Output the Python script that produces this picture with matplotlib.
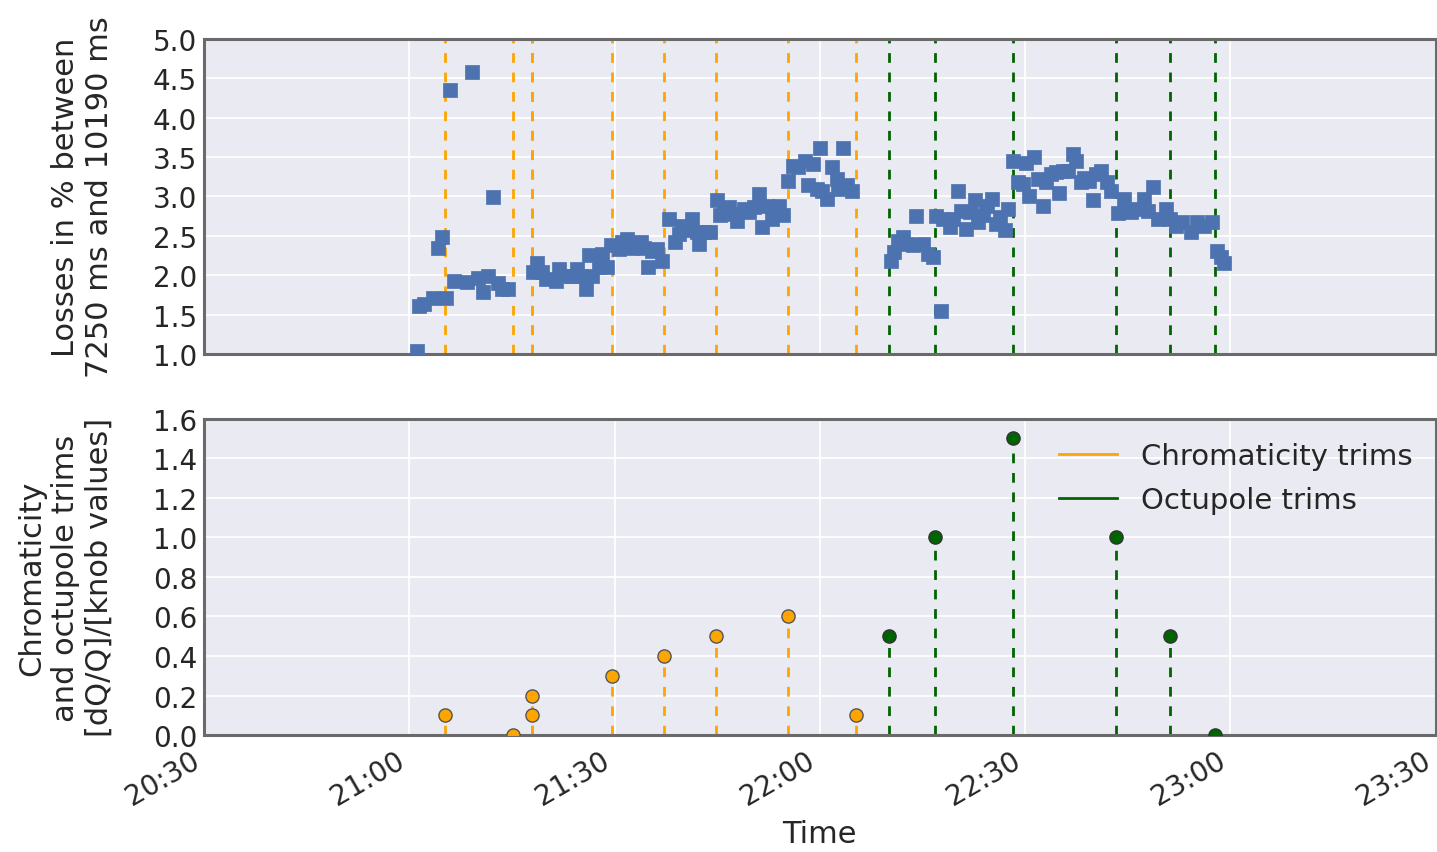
import numpy as np
import pandas as pd
import matplotlib
matplotlib.use("Agg")
import matplotlib.pyplot as plt
import matplotlib.dates as mdates
from matplotlib.lines import Line2D

# Время отсчитывается в минутах после 21:00
t_loss = [1.09, 1.49, 2.11, 3.48, 4.15, 4.80, 5.42, 5.96, 6.49, 8.44,
          9.11, 10.09, 10.82, 11.55, 12.17, 12.90, 13.48, 14.46, 18.10, 18.73,
          19.46, 20.04, 21.41, 21.90, 22.87, 23.83, 24.56, 25.06, 25.87, 26.27,
          26.75, 27.73, 28.21, 28.94, 29.43, 30.64, 31.12, 31.85, 32.58, 33.80,
          34.29, 34.91, 35.50, 36.22, 36.87, 37.93, 38.80, 39.39, 39.87, 40.12,
          40.85, 41.33, 42.06, 42.30, 43.03, 44.01, 44.97, 45.47, 45.95, 46.68,
          47.16, 47.89, 48.86, 49.59, 50.32, 51.05, 51.53, 52.26, 52.99, 53.97,
          54.69, 55.42, 56.15, 56.88, 57.86, 58.34, 59.07, 59.55, 60.04, 60.30,
          61.01, 61.74, 62.47, 62.71, 63.44, 63.92, 64.65, 70.39, 70.88, 71.46,
          72.19, 72.92, 73.65, 74.13, 75.10, 75.83, 76.56, 77.04, 77.77, 78.02,
          79.00, 79.48, 80.21, 80.69, 81.42, 81.92, 82.65, 83.12, 83.85, 84.48,
          85.16, 85.79, 86.29, 87.01, 87.49, 88.22, 88.95, 89.68, 90.16, 90.55,
          91.28, 91.87, 92.59, 93.08, 93.81, 94.54, 95.03, 95.51, 96.24, 96.97,
          97.46, 98.18, 98.68, 99.41, 99.89, 100.38, 101.11, 101.98, 102.57, 103.63,
          104.51, 105.47, 106.44, 107.32, 107.90, 108.63, 109.36, 110.57, 111.22, 112.03,
          113.01, 114.21, 115.19, 116.17, 117.38, 118.00, 118.69, 119.08]
losses = [1.04, 1.61, 1.63, 1.71, 2.35, 2.48, 1.71, 4.35, 1.93, 1.91,
          4.58, 1.97, 1.78, 1.99, 2.99, 1.90, 1.83, 1.83, 2.04, 2.16,
          2.04, 1.95, 1.93, 2.08, 1.99, 1.99, 2.08, 1.99, 1.83, 2.25,
          1.99, 2.10, 2.27, 2.10, 2.38, 2.33, 2.42, 2.46, 2.35, 2.42,
          2.35, 2.11, 2.31, 2.33, 2.18, 2.71, 2.42, 2.52, 2.63, 2.59,
          2.57, 2.71, 2.55, 2.40, 2.55, 2.55, 2.95, 2.76, 2.84, 2.86,
          2.78, 2.69, 2.84, 2.80, 2.86, 3.03, 2.61, 2.88, 2.71, 2.88,
          2.76, 3.20, 3.39, 3.37, 3.45, 3.14, 3.41, 3.10, 3.62, 3.07,
          2.97, 3.37, 3.22, 3.10, 3.61, 3.14, 3.07, 2.18, 2.29, 2.44,
          2.48, 2.40, 2.38, 2.75, 2.40, 2.27, 2.23, 2.75, 1.54, 2.71,
          2.61, 2.71, 3.07, 2.82, 2.59, 2.80, 2.95, 2.67, 2.76, 2.88,
          2.97, 2.65, 2.74, 2.57, 2.84, 3.45, 3.18, 3.16, 3.43, 3.01,
          3.50, 3.22, 2.88, 3.18, 3.29, 3.31, 3.05, 3.33, 3.33, 3.54,
          3.45, 3.18, 3.24, 3.20, 2.95, 3.29, 3.33, 3.18, 3.07, 2.79,
          2.97, 2.80, 2.84, 2.97, 2.82, 3.12, 2.71, 2.84, 2.71, 2.63,
          2.67, 2.55, 2.67, 2.63, 2.67, 2.31, 2.23, 2.16]

t_chroma = [5.28, 15.19, 17.96, 17.96, 29.62, 37.2, 44.9, 55.4, 65.3]
chroma = [0.1, 0.0, 0.2, 0.1, 0.3, 0.4, 0.5, 0.6, 0.1]

t_octu = [70.1, 76.8, 88.2, 103.3, 111.2, 117.7]
octu = [0.5, 1.0, 1.5, 1.0, 0.5, 0.0]

base = pd.Timestamp("2016-01-01 21:00")


def to_time(minutes):
    return (base + pd.to_timedelta(minutes, unit="m")).to_pydatetime()


x_loss = to_time(t_loss)
x_chroma = to_time(t_chroma)
x_octu = to_time(t_octu)

plt.rcParams["font.family"] = "DejaVu Sans"
text_col = "#262626"
bg = "#EAEAF2"
c_chroma = "orange"
c_octu = "darkgreen"
dash = (0, (3.5, 3.5))

fig = plt.figure(figsize=(14.37, 8.53), dpi=100)
ax1 = fig.add_axes([0.142, 0.584, 0.857, 0.369])
ax2 = fig.add_axes([0.142, 0.137, 0.857, 0.371], sharex=ax1)

for ax in (ax1, ax2):
    ax.set_facecolor(bg)
    ax.grid(True, color="white", linewidth=1.3)
    ax.set_axisbelow(True)
    for s in ax.spines.values():
        s.set_color("#6a6a6a")
        s.set_linewidth(2.2)
    ax.tick_params(length=0, labelsize=20, labelcolor=text_col, pad=5)
ax2.tick_params(axis="x", pad=8)

# верхний график: потери
ax1.scatter(x_loss, losses, marker="s", s=95, color="#4C72B0",
            edgecolors="#4C72B0", linewidths=0.5, zorder=3)
for x in x_chroma:
    ax1.axvline(x, color=c_chroma, linestyle=dash, linewidth=2, zorder=2)
for x in x_octu:
    ax1.axvline(x, color=c_octu, linestyle=dash, linewidth=2, zorder=2)
ax1.set_ylim(1.0, 5.0)
ax1.set_yticks(np.arange(1.0, 5.01, 0.5))
ax1.yaxis.set_major_formatter(matplotlib.ticker.FormatStrFormatter("%.1f"))
ax1.set_ylabel("Losses in % between\n7250 ms and 10190 ms", fontsize=22,
               color=text_col, labelpad=28)
plt.setp(ax1.get_xticklabels(), visible=False)

# нижний график: коррекции
ax2.vlines(x_chroma, 0, chroma, colors=c_chroma, linestyles=dash,
           linewidth=2, zorder=2)
ax2.plot(x_chroma, chroma, "o", color=c_chroma, markersize=9.5,
         markeredgecolor="#555555", markeredgewidth=1, zorder=3)
ax2.vlines(x_octu, 0, octu, colors=c_octu, linestyles=dash,
           linewidth=2, zorder=2)
ax2.plot(x_octu, octu, "o", color=c_octu, markersize=9.5,
         markeredgecolor="#333333", markeredgewidth=1, zorder=3)
ax2.set_ylim(0, 1.6)
ax2.set_yticks(np.arange(0, 1.61, 0.2))
ax2.yaxis.set_major_formatter(matplotlib.ticker.FormatStrFormatter("%.1f"))
ax2.set_ylabel("Chromaticity\nand octupole trims\n[dQ/Q]/[knob values]",
               fontsize=22, color=text_col, labelpad=28)
ax2.set_xlabel("Time", fontsize=22, color=text_col, labelpad=6)

handles = [Line2D([], [], color=c_chroma, linewidth=2),
           Line2D([], [], color=c_octu, linewidth=2)]
ax2.legend(handles, ["Chromaticity trims", "Octupole trims"], loc="upper right",
           frameon=False, fontsize=21, handlelength=2, labelcolor=text_col,
           borderaxespad=0.4, labelspacing=0.55)

ax2.set_xlim(to_time([-30])[0], to_time([150])[0])
ax2.xaxis.set_major_locator(mdates.MinuteLocator(byminute=[0, 30]))
ax2.xaxis.set_major_formatter(mdates.DateFormatter("%H:%M"))
plt.setp(ax2.get_xticklabels(), rotation=30, ha="right")

fig.savefig("out.png", dpi=100)
